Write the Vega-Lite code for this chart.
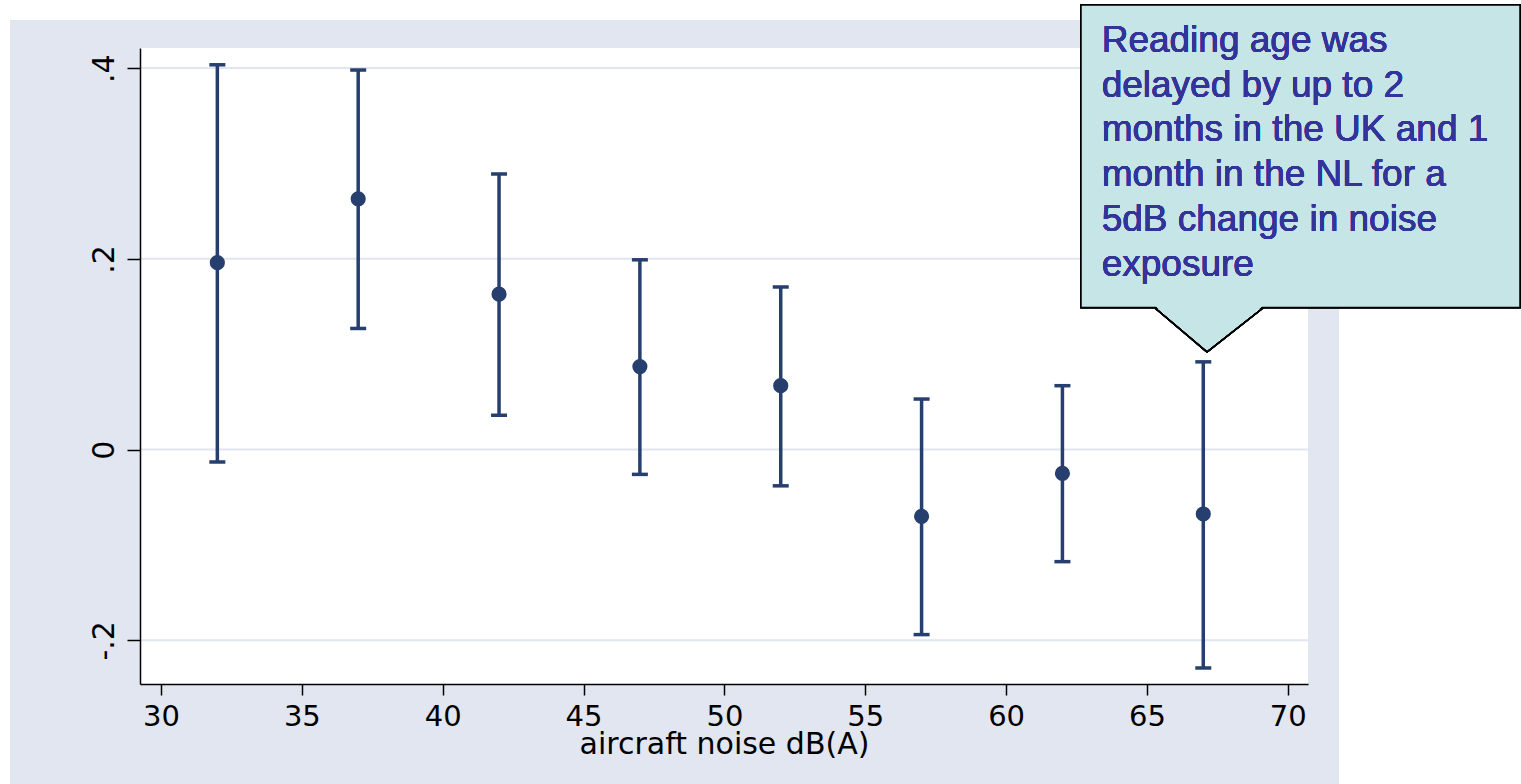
{
  "$schema": "https://vega.github.io/schema/vega-lite/v6.json",
  "width": 1168,
  "height": 636,
  "autosize": {"type": "none"},
  "padding": {"left": 140, "top": 48, "right": 213, "bottom": 100},
  "background": "white",
  "config": {
    "view": {"stroke": null},
    "axisX": {
      "grid": false,
      "domainColor": "black", "domainWidth": 1.5,
      "tickColor": "black", "tickWidth": 1.5, "tickSize": 11,
      "labelFont": "DejaVu Sans", "labelFontSize": 29, "labelColor": "black", "labelPadding": 7,
      "titleFont": "DejaVu Sans", "titleFontSize": 30, "titleFontWeight": "normal", "titleColor": "black", "titlePadding": -2
    },
    "axisY": {
      "grid": false,
      "domainColor": "black", "domainWidth": 1.5,
      "tickColor": "black", "tickWidth": 1.5, "tickSize": 13,
      "labelFont": "DejaVu Sans", "labelFontSize": 30, "labelColor": "black", "labelPadding": 8, "labelAngle": -90
    }
  },
  "data": {"values": [
    {"noise": 32, "est": 0.196, "lo": -0.013, "hi": 0.4035},
    {"noise": 37, "est": 0.263, "lo": 0.127, "hi": 0.398},
    {"noise": 42, "est": 0.163, "lo": 0.036, "hi": 0.289},
    {"noise": 47, "est": 0.087, "lo": -0.026, "hi": 0.199},
    {"noise": 52, "est": 0.067, "lo": -0.038, "hi": 0.1705},
    {"noise": 57, "est": -0.070, "lo": -0.194, "hi": 0.053},
    {"noise": 62, "est": -0.025, "lo": -0.1175, "hi": 0.067},
    {"noise": 67, "est": -0.0675, "lo": -0.229, "hi": 0.092}
  ]},
  "layer": [
    {
      "mark": {"type": "rect", "fill": "#e1e6f0"},
      "encoding": {
        "x": {"datum": 24.64, "type": "quantitative", "title": "aircraft noise dB(A)", "scale": {"domain": [29.2545, 70.7175], "nice": false, "zero": false}},
        "x2": {"datum": 71.8},
        "y": {"datum": 0.4503, "type": "quantitative", "title": null, "scale": {"domain": [-0.2458, 0.4211], "nice": false, "zero": false}},
        "y2": {"datum": -0.3507}
      }
    },
    {
      "mark": {"type": "rect", "fill": "white"},
      "encoding": {
        "x": {"datum": 29.2545, "type": "quantitative", "title": "aircraft noise dB(A)", "scale": {"domain": [29.2545, 70.7175], "nice": false, "zero": false}},
        "x2": {"datum": 70.7175},
        "y": {"datum": 0.4211, "type": "quantitative", "title": null, "scale": {"domain": [-0.2458, 0.4211], "nice": false, "zero": false}},
        "y2": {"datum": -0.2458}
      }
    },
    {
      "data": {"values": [{"g": -0.2}, {"g": 0}, {"g": 0.2}, {"g": 0.4}]},
      "mark": {"type": "rule", "color": "#e0e5ef", "strokeWidth": 2},
      "encoding": {
        "y": {"field": "g", "type": "quantitative", "title": null, "scale": {"domain": [-0.2458, 0.4211], "nice": false, "zero": false}}
      }
    },
    {
      "mark": {"type": "rule", "color": "#263f6e", "strokeWidth": 3.5},
      "encoding": {
        "x": {"field": "noise", "type": "quantitative", "title": "aircraft noise dB(A)",
              "scale": {"domain": [29.2545, 70.7175], "nice": false, "zero": false},
              "axis": {"values": [30, 35, 40, 45, 50, 55, 60, 65, 70], "zindex": 1}},
        "y": {"field": "lo", "type": "quantitative", "title": null,
              "scale": {"domain": [-0.2458, 0.4211], "nice": false, "zero": false},
              "axis": {"values": [-0.2, 0, 0.2, 0.4], "zindex": 1, "labelExpr": "datum.value == 0 ? '0' : (datum.value < 0 ? '-' : '') + replace(format(abs(datum.value), '.1f'), '0.', '.')"}},
        "y2": {"field": "hi"}
      }
    },
    {
      "mark": {"type": "tick", "orient": "horizontal", "color": "#263f6e", "size": 16, "thickness": 3.5, "opacity": 1},
      "encoding": {
        "x": {"field": "noise", "type": "quantitative", "title": "aircraft noise dB(A)", "scale": {"domain": [29.2545, 70.7175], "nice": false, "zero": false}},
        "y": {"field": "hi", "type": "quantitative", "title": null, "scale": {"domain": [-0.2458, 0.4211], "nice": false, "zero": false}}
      }
    },
    {
      "mark": {"type": "tick", "orient": "horizontal", "color": "#263f6e", "size": 16, "thickness": 3.5, "opacity": 1},
      "encoding": {
        "x": {"field": "noise", "type": "quantitative", "title": "aircraft noise dB(A)", "scale": {"domain": [29.2545, 70.7175], "nice": false, "zero": false}},
        "y": {"field": "lo", "type": "quantitative", "title": null, "scale": {"domain": [-0.2458, 0.4211], "nice": false, "zero": false}}
      }
    },
    {
      "mark": {"type": "circle", "color": "#263f6e", "size": 230, "opacity": 1},
      "encoding": {
        "x": {"field": "noise", "type": "quantitative", "title": "aircraft noise dB(A)", "scale": {"domain": [29.2545, 70.7175], "nice": false, "zero": false}},
        "y": {"field": "est", "type": "quantitative", "title": null, "scale": {"domain": [-0.2458, 0.4211], "nice": false, "zero": false}}
      }
    },
    {
      "mark": {"type": "rect", "fill": "#c5e5e6", "stroke": "black", "strokeWidth": 1.5},
      "encoding": {
        "x": {"datum": 62.659, "type": "quantitative", "title": "aircraft noise dB(A)", "scale": {"domain": [29.2545, 70.7175], "nice": false, "zero": false}},
        "x2": {"datum": 78.243},
        "y": {"datum": 0.4661, "type": "quantitative", "title": null, "scale": {"domain": [-0.2458, 0.4211], "nice": false, "zero": false}},
        "y2": {"datum": 0.149}
      }
    },
    {
      "mark": {"type": "point", "shape": "M-1,-0.46L-0.037,0.407L1,-0.46Z", "size": 11664, "filled": true, "fill": "#c5e5e6", "strokeWidth": 0, "opacity": 1},
      "encoding": {
        "x": {"datum": 67.203, "type": "quantitative", "title": "aircraft noise dB(A)", "scale": {"domain": [29.2545, 70.7175], "nice": false, "zero": false}},
        "y": {"datum": 0.1254, "type": "quantitative", "title": null, "scale": {"domain": [-0.2458, 0.4211], "nice": false, "zero": false}}
      }
    },
    {
      "mark": {"type": "point", "shape": "M-1,-0.407L-0.037,0.407L1,-0.407", "size": 11664, "filled": false, "fill": null, "stroke": "black", "strokeWidth": 1.5, "opacity": 1},
      "encoding": {
        "x": {"datum": 67.203, "type": "quantitative", "title": "aircraft noise dB(A)", "scale": {"domain": [29.2545, 70.7175], "nice": false, "zero": false}},
        "y": {"datum": 0.1254, "type": "quantitative", "title": null, "scale": {"domain": [-0.2458, 0.4211], "nice": false, "zero": false}}
      }
    },
    {
      "mark": {"type": "text", "align": "left", "baseline": "alphabetic", "font": "Liberation Sans", "fontSize": 37, "lineHeight": 44.7, "color": "#333399"},
      "encoding": {
        "x": {"datum": 63.393, "type": "quantitative", "title": "aircraft noise dB(A)", "scale": {"domain": [29.2545, 70.7175], "nice": false, "zero": false}},
        "y": {"datum": 0.4169, "type": "quantitative", "title": null, "scale": {"domain": [-0.2458, 0.4211], "nice": false, "zero": false}},
        "text": {"value": ["Reading age was", "delayed by up to 2", "months in the UK and 1", "month in the NL for a", "5dB change in noise", "exposure"]}
      }
    }
  ]
}
